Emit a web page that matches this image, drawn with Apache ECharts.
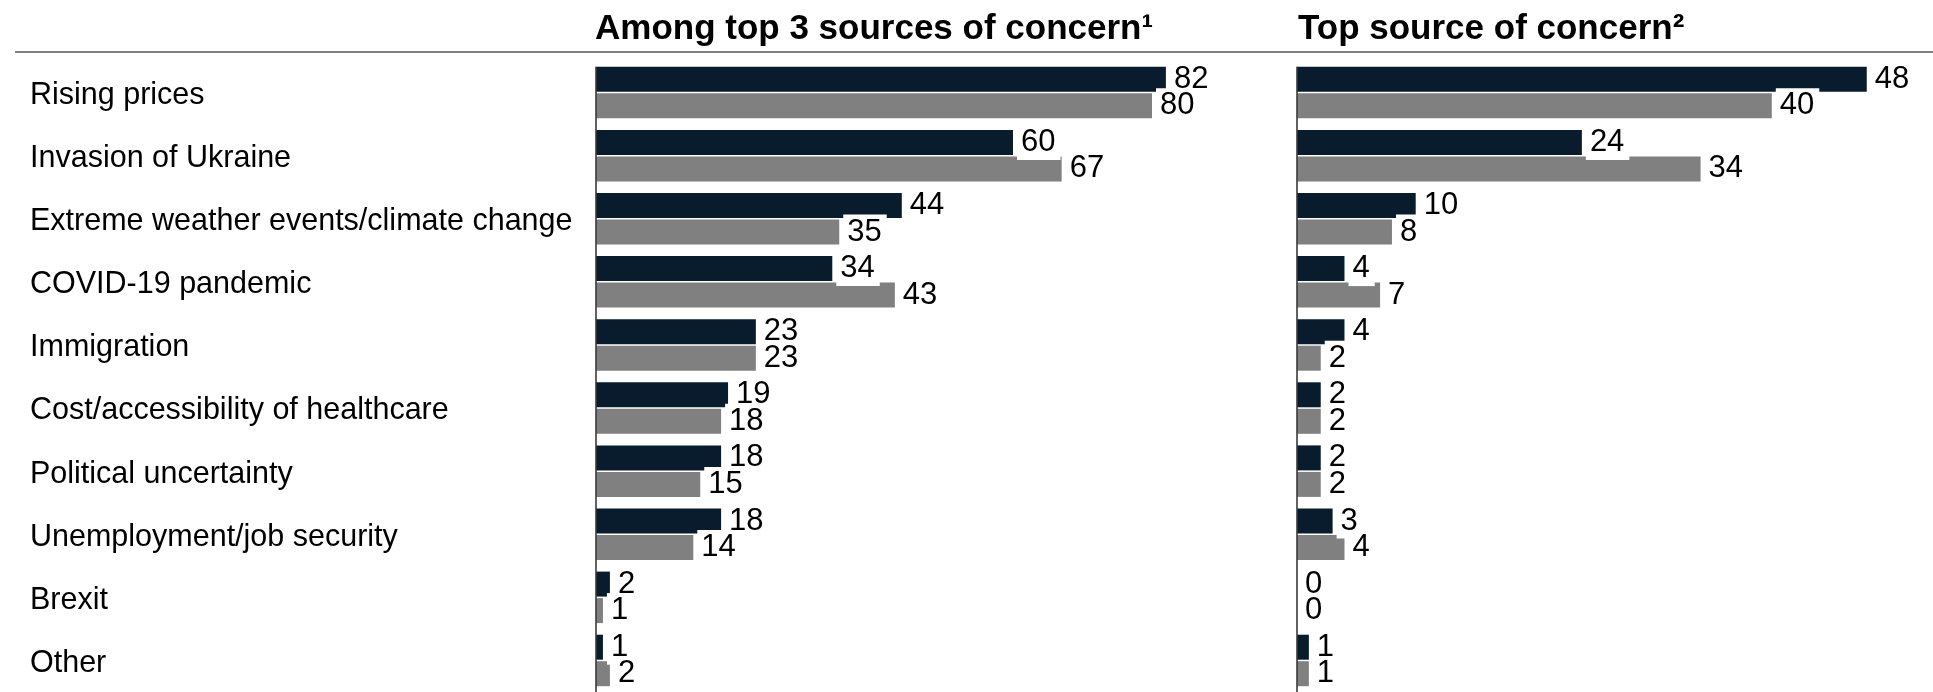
<!DOCTYPE html>
<html>
<head>
<meta charset="utf-8">
<script src="https://cdn.jsdelivr.net/npm/echarts@6/dist/echarts.min.js"></script>
<style>
  html, body { margin: 0; padding: 0; background: #fff; }
  #chart { width: 1933px; height: 692px; }
</style>
</head>
<body>
<div id="chart"></div>
<script>
// Sources of concern, share of respondents (%)
const categories = [
  'Rising prices',
  'Invasion of Ukraine',
  'Extreme weather events/climate change',
  'COVID-19 pandemic',
  'Immigration',
  'Cost/accessibility of healthcare',
  'Political uncertainty',
  'Unemployment/job security',
  'Brexit',
  'Other'
];

// "Among top 3 sources of concern"
const topThreeRecent  = [82, 60, 44, 34, 23, 19, 18, 18, 2, 1];
const topThreeEarlier = [80, 67, 35, 43, 23, 18, 15, 14, 1, 2];

// "Top source of concern"
const topOneRecent  = [48, 24, 10, 4, 4, 2, 2, 3, 0, 1];
const topOneEarlier = [40, 34, 8, 7, 2, 2, 2, 4, 0, 1];

const panelTitles = ['Among top 3 sources of concern\u00b9', 'Top source of concern\u00b2'];

const FONT = "'Liberation Sans', Arial, Helvetica, sans-serif";
const DARK = '#081c2e';
const GRAY = '#808080';
const BAR_W = 25;
const BAR_GAP_PX = 1.5;

const chart = echarts.init(document.getElementById('chart'), null, { renderer: 'canvas' });

function valueLabel() {
  return {
    show: true,
    position: 'right',
    distance: 4,
    color: '#000',
    fontFamily: FONT,
    fontSize: 31,
    lineHeight: 31,
    backgroundColor: '#fff',
    padding: [3, 5, 1, 4]
  };
}

function barSeries(data, color, idx) {
  return {
    type: 'bar',
    xAxisIndex: idx,
    yAxisIndex: idx,
    data: data,
    barWidth: BAR_W,
    barGap: (BAR_GAP_PX / BAR_W * 100) + '%',
    itemStyle: { color: color },
    label: valueLabel(),
    silent: true
  };
}

const hiddenValueAxis = (idx, max) => ({
  type: 'value',
  gridIndex: idx,
  min: 0,
  max: max,
  show: false
});

// Category names sit a few pixels below the band centre
const categoryAxis = (idx, withLabels) => ({
  type: 'category',
  gridIndex: idx,
  data: categories,
  inverse: true,
  axisLine: { show: false },
  axisTick: { show: false },
  splitLine: { show: false },
  axisLabel: withLabels ? {
    show: true,
    align: 'left',
    verticalAlign: 'top',
    lineHeight: 6,
    margin: 566,
    color: '#000',
    fontFamily: FONT,
    fontSize: 30.5
  } : { show: false }
});

const titleStyle = {
  color: '#000',
  fontFamily: FONT,
  fontSize: 35,
  fontWeight: 'bold',
  lineHeight: 35
};

chart.setOption({
  animation: false,
  backgroundColor: '#fff',
  title: [
    { text: panelTitles[0], left: 595, top: 12, padding: 0, textStyle: titleStyle },
    { text: panelTitles[1], left: 1298, top: 12, padding: 0, textStyle: titleStyle }
  ],
  grid: [
    { left: 596, top: 61, width: 695, height: 634 },
    { left: 1297, top: 61, width: 593.5, height: 634 }
  ],
  xAxis: [hiddenValueAxis(0, 100), hiddenValueAxis(1, 50)],
  yAxis: [categoryAxis(0, true), categoryAxis(1, false)],
  series: [
    barSeries(topThreeRecent, DARK, 0),
    barSeries(topThreeEarlier, GRAY, 0),
    barSeries(topOneRecent, DARK, 1),
    barSeries(topOneEarlier, GRAY, 1)
  ]
});

// Header rule and the two baseline axes, placed from the axes' own scales
const halfGroup = (2 * BAR_W + BAR_GAP_PX) / 2;
const graphics = [{
  type: 'line',
  shape: { x1: 15, y1: 52, x2: 1933, y2: 52 },
  style: { stroke: '#808080', lineWidth: 2 },
  silent: true
}];
[0, 1].forEach(i => {
  const x0 = chart.convertToPixel({ xAxisIndex: i }, 0);
  const yTop = chart.convertToPixel({ yAxisIndex: i }, categories[0]) - halfGroup;
  graphics.push({
    type: 'line',
    shape: { x1: x0, y1: yTop, x2: x0, y2: 692 },
    style: { stroke: '#3a3a3a', lineWidth: 1.6 },
    z: 10,
    silent: true
  });
});
chart.setOption({ graphic: graphics });
</script>
</body>
</html>
